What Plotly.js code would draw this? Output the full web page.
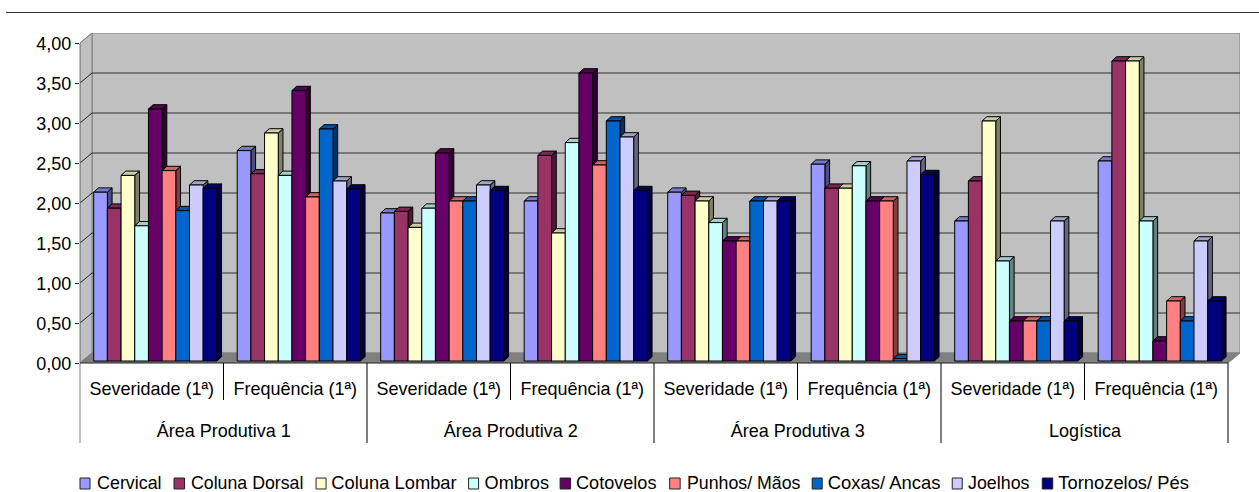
<!DOCTYPE html>
<html lang="pt">
<head>
<meta charset="utf-8">
<script src="https://cdn.plot.ly/plotly-3.0.1.min.js"></script>
<style>html,body{margin:0;padding:0;background:#fff}#chart{width:1259px;height:492px}</style>
</head>
<body>
<div id="chart"></div>
<script>
// Pain scores by body region, per work area and measure.
const areas = ['Área Produtiva 1', 'Área Produtiva 2', 'Área Produtiva 3', 'Logística'];
const measures = ['Severidade (1ª)', 'Frequência (1ª)', 'Severidade (1ª)', 'Frequência (1ª)',
                  'Severidade (1ª)', 'Frequência (1ª)', 'Severidade (1ª)', 'Frequência (1ª)'];
const seriesNames = ['Cervical', 'Coluna Dorsal', 'Coluna Lombar', 'Ombros', 'Cotovelos',
                     'Punhos/ Mãos', 'Coxas/ Ancas', 'Joelhos', 'Tornozelos/ Pés'];

const cervical   = [2.11, 2.63, 1.85, 2.00, 2.11, 2.46, 1.75, 2.50];
const dorsal     = [1.91, 2.34, 1.87, 2.57, 2.07, 2.16, 2.25, 3.75];
const lombar     = [2.32, 2.85, 1.67, 1.60, 2.00, 2.16, 3.00, 3.75];
const ombros     = [1.69, 2.32, 1.91, 2.73, 1.73, 2.44, 1.25, 1.75];
const cotovelos  = [3.15, 3.38, 2.60, 3.60, 1.50, 2.00, 0.50, 0.25];
const punhos     = [2.38, 2.05, 2.00, 2.45, 1.50, 2.00, 0.50, 0.75];
const coxas      = [1.88, 2.90, 2.00, 3.00, 2.00, 0.03, 0.50, 0.50];
const joelhos    = [2.20, 2.25, 2.20, 2.80, 2.00, 2.50, 1.75, 1.50];
const tornozelos = [2.16, 2.15, 2.13, 2.13, 2.00, 2.33, 0.50, 0.75];
const seriesValues = [cervical, dorsal, lombar, ombros, cotovelos, punhos, coxas, joelhos, tornozelos];

const palette = ['#9999FF', '#993366', '#FFFFCC', '#CCFFFF', '#660066',
                 '#FF8080', '#0066CC', '#CCCCFF', '#000080'];

// Figure geometry, in pixels.
const W = 1259, H = 492;
const frontLeft = 80, frontRight = 1227.7, floorY = 363, pxPerUnit = 80;
const wallDx = 12, wallDy = 10;
const plotRight = frontRight + wallDx, plotTop = floorY - 4 * pxPerUnit - wallDy;
const catPx = (frontRight - frontLeft) / measures.length;

// Conversions into axis units.
const ux = px => px / catPx;
const uy = px => px / pxPerUnit;
const paperY = py => (H - 129 - py) / (H - 129 - plotTop);
const paperX = px => (px - frontLeft) / (plotRight - frontLeft);

const barW = ux(13.68), barInset = ux(13.7), depthX = ux(4.7), depthY = uy(4.3), barBase = uy(2);
const xEnd = measures.length + ux(wallDx), yEnd = 4 + uy(wallDy);
const WX = ux(wallDx), WY = uy(wallDy);

const shade = (hex, f) => {
  const n = parseInt(hex.slice(1), 16);
  return 'rgb(' + [(n >> 16) & 255, (n >> 8) & 255, n & 255].map(c => Math.round(c * f)).join(',') + ')';
};

// The box-like bars: sides and tops first, then the front face, series by series.
const traces = [];
seriesValues.forEach((vals, s) => {
  const sideX = [], sideY = [], topX = [], topY = [];
  vals.forEach((v, k) => {
    const L = k + barInset + s * barW, R = L + barW, t = barBase + v;
    sideX.push(R, R + depthX, R + depthX, R, R, null);
    sideY.push(t, t + depthY, barBase + depthY, barBase, t, null);
    topX.push(L, R, R + depthX, L + depthX, L, null);
    topY.push(t, t, t + depthY, t + depthY, t, null);
  });
  const face = (x, y, col) => ({
    type: 'scatter', mode: 'lines', x, y, fill: 'toself', fillcolor: col,
    line: {color: '#000', width: 1}, hoverinfo: 'skip', showlegend: false, zorder: 2 * s
  });
  traces.push(face(sideX, sideY, shade(palette[s], 0.5)));
  traces.push(face(topX, topY, shade(palette[s], 0.8)));
  traces.push({
    type: 'bar', name: seriesNames[s], x: vals.map((_, k) => k + 0.5), y: vals, base: barBase,
    width: barW, offset: barInset - 0.5 + s * barW,
    marker: {color: palette[s], line: {color: '#000', width: 1}},
    showlegend: false, zorder: 2 * s + 1
  });
});

// Walls, floor and gridlines of the box.
const grey = '#808080';
const poly = pts => 'M' + pts.map(p => p.join(',')).join('L') + 'Z';
const shapes = [
  {type: 'path', xref: 'x', yref: 'y', layer: 'below', fillcolor: '#C0C0C0', line: {color: grey, width: 1},
   path: poly([[WX, WY], [xEnd, WY], [xEnd, yEnd], [WX, yEnd]])},
  {type: 'path', xref: 'x', yref: 'y', layer: 'below', fillcolor: '#C0C0C0', line: {color: grey, width: 1},
   path: poly([[0, 0], [WX, WY], [WX, yEnd], [0, 4]])},
  {type: 'path', xref: 'x', yref: 'y', layer: 'below', fillcolor: grey, line: {color: grey, width: 1},
   path: poly([[0, 0], [measures.length, 0], [xEnd, WY], [WX, WY]])}
];
[0.5, 1, 1.5, 2, 2.5, 3, 3.5].forEach(v => shapes.push(
  {type: 'line', xref: 'x', yref: 'y', layer: 'below', x0: WX, x1: xEnd, y0: v + WY, y1: v + WY,
   line: {color: '#303030', width: 1}}));
[0, 0.5, 1, 1.5, 2, 2.5, 3, 3.5, 4].forEach(v => shapes.push(
  {type: 'line', xref: 'x', yref: 'y', layer: 'below', x0: 0, x1: WX, y0: v, y1: v + WY,
   line: {color: v === 4 || v === 0 ? grey : '#202020', width: 1}}));

// Rule across the top of the figure.
shapes.push({type: 'line', xref: 'paper', yref: 'paper', x0: paperX(6), x1: paperX(W),
             y0: paperY(12.5), y1: paperY(12.5), line: {color: '#333', width: 1}});
// Axis lines and the two-level category separators.
shapes.push({type: 'line', xref: 'paper', yref: 'paper', x0: 0, x1: 0, y0: paperY(43), y1: paperY(443),
             line: {color: grey, width: 1}});
shapes.push({type: 'line', xref: 'x', yref: 'paper', x0: 0, x1: measures.length, y0: paperY(363), y1: paperY(363),
             line: {color: '#222', width: 1}});
for (let k = 1; k <= measures.length; k++) {
  shapes.push({type: 'line', xref: 'x', yref: 'paper', x0: k, x1: k, y0: paperY(363),
               y1: paperY(k % 2 ? 400 : 443), line: {color: '#000', width: 1}});
}

const textFont = {family: '"Liberation Sans", Arial, sans-serif', size: 19, color: '#000'};
const annotations = areas.map((a, i) => ({
  text: a, xref: 'x', yref: 'paper', x: 2 * i + 1, y: paperY(430),
  xanchor: 'center', yanchor: 'middle', showarrow: false, font: textFont
}));

// Legend row: one swatch and label per series, with each label fitted to its slot.
const legendSwatchX = [80, 174, 316, 468.5, 560, 669.5, 812, 952, 1042];
const legendSwatchW = [10, 10.5, 10, 10, 10.5, 10.5, 10, 10, 10.5];
const legendTextX = [96.7, 189.7, 331.3, 484, 575.7, 685.7, 826.7, 967.3, 1057.3];
const legendTextW = [66, 114, 127, 66, 82, 115, 114, 63, 132];
seriesNames.forEach((n, s) => {
  const x0 = legendSwatchX[s];
  shapes.push({type: 'rect', xref: 'paper', yref: 'paper', x0: paperX(x0), x1: paperX(x0 + legendSwatchW[s]),
               y0: paperY(478), y1: paperY(489), fillcolor: palette[s], line: {color: '#222', width: 1}});
  annotations.push({text: n, xref: 'paper', yref: 'paper', x: paperX(legendTextX[s] + legendTextW[s] / 2),
                    y: paperY(482.4), xanchor: 'center', yanchor: 'middle', showarrow: false, font: textFont});
});

const layout = {
  width: W, height: H, showlegend: false, barmode: 'overlay', separators: ',.',
  paper_bgcolor: '#fff', plot_bgcolor: 'rgba(0,0,0,0)',
  margin: {l: frontLeft, r: W - plotRight, t: plotTop, b: H - floorY, pad: 0},
  xaxis: {range: [0, xEnd], tickvals: measures.map((_, k) => k + 0.5), ticktext: measures,
          tickfont: textFont, ticks: 'outside', ticklen: 8, tickcolor: 'rgba(0,0,0,0)',
          showgrid: false, zeroline: false, showline: false, fixedrange: true},
  yaxis: {range: [0, yEnd], tickvals: [0, 0.5, 1, 1.5, 2, 2.5, 3, 3.5, 4], tickformat: '.2f',
          tickfont: textFont, ticks: 'outside', ticklen: 4, tickcolor: '#222', tickwidth: 1,
          showgrid: false, zeroline: false, showline: false, fixedrange: true},
  shapes, annotations
};

// Labels are set in a tall, slightly condensed face: squeeze the glyphs sideways.
const glyphSqueeze = 18 / 19;
Plotly.newPlot('chart', traces, layout, {displayModeBar: false, responsive: false}).then(gd => {
  gd.querySelectorAll('svg text').forEach(t => {
    const len = t.getComputedTextLength();
    if (len > 0) {
      const slot = seriesNames.indexOf(t.textContent);
      const target = slot >= 0 ? legendTextW[slot] - 1.5 : len * glyphSqueeze;
      t.setAttribute('textLength', target.toFixed(2));
      t.setAttribute('lengthAdjust', 'spacingAndGlyphs');
    }
  });
});
</script>
</body>
</html>
